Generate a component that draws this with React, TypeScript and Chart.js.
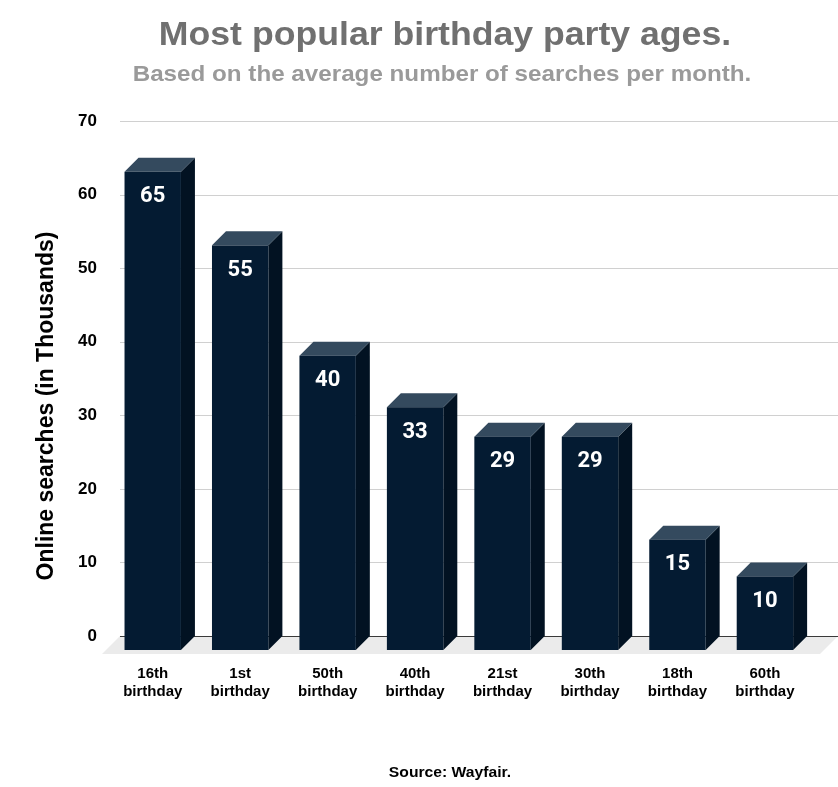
import { useEffect, useRef } from 'react';
import { Chart, ChartConfiguration, Plugin, registerables } from 'chart.js';

const categories = [
  ['16th', 'birthday'],
  ['1st', 'birthday'],
  ['50th', 'birthday'],
  ['40th', 'birthday'],
  ['21st', 'birthday'],
  ['30th', 'birthday'],
  ['18th', 'birthday'],
  ['60th', 'birthday'],
];
const searches = [65, 55, 40, 33, 29, 29, 15, 10];
const yTicks = [0, 10, 20, 30, 40, 50, 60, 70];

const TITLE = 'Most popular birthday party ages.';
const SUBTITLE = 'Based on the average number of searches per month.';
const SOURCE = 'Source: Wayfair.';
const Y_TITLE = 'Online searches (in Thousands)';

const FONT = '"Liberation Sans", Arial, sans-serif';
const DEPTH = 14;
const FLOOR = 18;

const FRONT = '#041b32';
const TOP = '#344a5e';
const SIDE = '#021222';

// text in the reference is a bit wider than the plain font
function stretchedText(ctx: CanvasRenderingContext2D, text: string, x: number, y: number, sx: number) {
  ctx.save();
  ctx.translate(x, y);
  ctx.scale(sx, 1);
  ctx.fillText(text, 0, 0);
  ctx.restore();
}

const boxes3d: Plugin<'bar'> = {
  id: 'boxes3d',
  beforeDatasetsDraw(chart) {
    const { ctx, chartArea, scales } = chart;
    const y = scales.y;
    const right = chart.width;
    const left = chartArea.left - 3;
    const zero = y.getPixelForValue(0);

    ctx.save();
    // floor
    ctx.fillStyle = '#ebebeb';
    ctx.beginPath();
    ctx.moveTo(left, zero);
    ctx.lineTo(right, zero);
    ctx.lineTo(right - FLOOR, zero + FLOOR);
    ctx.lineTo(left - FLOOR, zero + FLOOR);
    ctx.closePath();
    ctx.fill();

    // grid
    yTicks.forEach(v => {
      const py = Math.round(y.getPixelForValue(v)) + 0.5;
      ctx.strokeStyle = v === 0 ? '#3a3a3a' : '#d0d0d0';
      ctx.lineWidth = 1;
      ctx.beginPath();
      ctx.moveTo(left, py);
      ctx.lineTo(right, py);
      ctx.stroke();
    });
    ctx.restore();
  },
  afterDatasetsDraw(chart) {
    const { ctx } = chart;
    const meta = chart.getDatasetMeta(0);
    ctx.save();
    meta.data.forEach((el, i) => {
      const { x, y, base, width } = el.getProps(['x', 'y', 'base', 'width'], true) as any;
      const x0 = x - width / 2;
      const x1 = x + width / 2;
      const d = DEPTH;

      // side
      ctx.fillStyle = SIDE;
      ctx.beginPath();
      ctx.moveTo(x1 - d, y + d);
      ctx.lineTo(x1, y);
      ctx.lineTo(x1, base);
      ctx.lineTo(x1 - d, base + d);
      ctx.closePath();
      ctx.fill();

      // top
      ctx.fillStyle = TOP;
      ctx.beginPath();
      ctx.moveTo(x0 - d, y + d);
      ctx.lineTo(x0, y);
      ctx.lineTo(x1, y);
      ctx.lineTo(x1 - d, y + d);
      ctx.closePath();
      ctx.fill();

      // front
      ctx.fillStyle = FRONT;
      ctx.fillRect(x0 - d, y + d, width, base - y);

      // value
      ctx.fillStyle = '#ffffff';
      ctx.font = 'bold 22px Roboto, "Liberation Sans", sans-serif';
      ctx.textAlign = 'center';
      ctx.textBaseline = 'middle';
      ctx.fillText(String(searches[i]), x - d, y + d + 25);
    });
    ctx.restore();
  },
  afterDraw(chart) {
    const { ctx } = chart;
    ctx.save();
    ctx.textAlign = 'center';
    ctx.textBaseline = 'alphabetic';

    ctx.fillStyle = '#707070';
    ctx.font = `bold 33px ${FONT}`;
    stretchedText(ctx, TITLE, 445, 45, 1.08);

    ctx.fillStyle = '#9a9a9a';
    ctx.font = `bold 22px ${FONT}`;
    stretchedText(ctx, SUBTITLE, 442, 81, 1.1);

    ctx.fillStyle = '#000000';
    ctx.font = `bold 14px ${FONT}`;
    stretchedText(ctx, SOURCE, 450, 777, 1.12);

    ctx.translate(53, 406);
    ctx.rotate(-Math.PI / 2);
    ctx.font = `bold 23px ${FONT}`;
    ctx.fillText(Y_TITLE, 0, 0);
    ctx.restore();
  },
};

export default function App() {
  const chartRef = useRef<HTMLCanvasElement>(null);
  const chartInstance = useRef<Chart | null>(null);

  useEffect(() => {
    if (!chartRef.current) return;

    Chart.register(...registerables);

    const ctx = chartRef.current.getContext('2d');
    if (!ctx) return;

    const config: ChartConfiguration<'bar'> = {
      type: 'bar',
      data: {
        labels: categories,
        datasets: [
          {
            data: searches,
            backgroundColor: 'rgba(0,0,0,0)',
            barPercentage: 0.645,
            categoryPercentage: 1,
          },
        ],
      },
      options: {
        responsive: true,
        maintainAspectRatio: false,
        animation: false,
        layout: {
          padding: { top: 121, right: 8, bottom: 57, left: 0 },
        },
        scales: {
          x: {
            grid: { display: false, drawTicks: false },
            border: { display: false },
            ticks: {
              color: '#000000',
              font: { family: FONT, size: 15, weight: 'bold', lineHeight: 1.2 },
              padding: 29,
              labelOffset: -DEPTH,
              maxRotation: 0,
              autoSkip: false,
            },
          },
          y: {
            min: 0,
            max: 70,
            grid: { display: false, drawTicks: false },
            border: { display: false },
            ticks: {
              stepSize: 10,
              color: '#000000',
              font: { family: FONT, size: 17, weight: 'bold' },
              padding: 26,
            },
            afterFit: (scale) => {
              scale.width = 123;
            },
          },
        },
        plugins: {
          legend: { display: false },
          tooltip: { enabled: false },
        },
      },
      plugins: [boxes3d],
    };

    if (chartInstance.current) {
      chartInstance.current.destroy();
    }

    chartInstance.current = new Chart(ctx, config);

    return () => {
      if (chartInstance.current) {
        chartInstance.current.destroy();
        chartInstance.current = null;
      }
    };
  }, []);

  return (
    <div style={{ position: 'fixed', left: 0, top: 0, width: 838, height: 787, background: '#ffffff' }}>
      <canvas ref={chartRef} />
    </div>
  );
}
